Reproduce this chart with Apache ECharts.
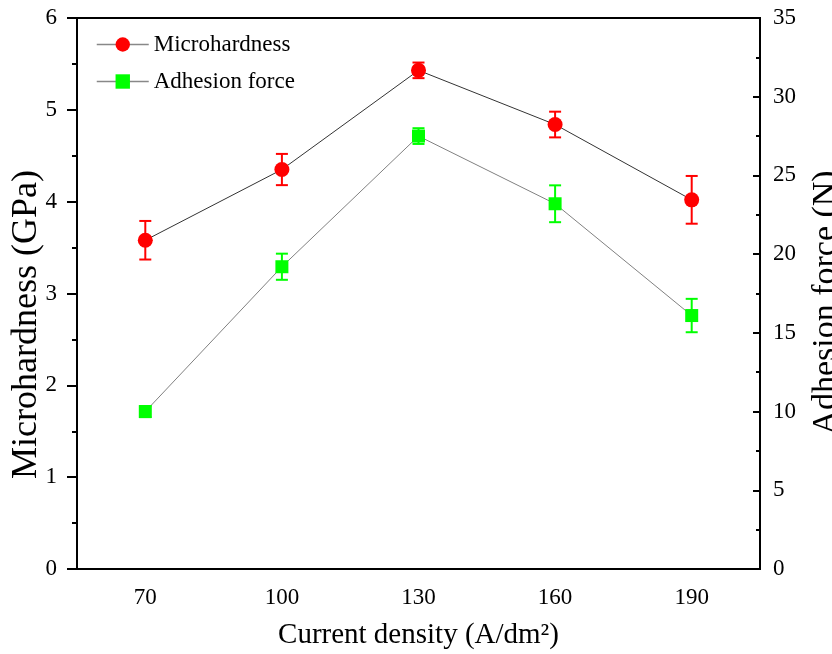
<!DOCTYPE html>
<html>
<head>
<meta charset="utf-8">
<script src="https://cdn.jsdelivr.net/npm/echarts@6/dist/echarts.min.js"></script>
<style>
  html, body { margin: 0; padding: 0; background: #fff; }
  #chart { width: 832px; height: 654px; }
</style>
</head>
<body>
<div id="chart"></div>
<script>
// 数据
var categories = ['70', '100', '130', '160', '190'];
var hardness = [3.58, 4.35, 5.43, 4.84, 4.02];
var hardnessErr = [0.21, 0.17, 0.085, 0.14, 0.26];
var adhesion = [10.0, 19.2, 27.5, 23.2, 16.1];
var adhesionErr = [0.35, 0.83, 0.5, 1.17, 1.06];

var serif = "'Liberation Serif', 'Times New Roman', serif";

function errData(vals, errs) {
    var out = [];
    for (var i = 0; i < vals.length; i++) {
        out.push([i, vals[i] - errs[i], vals[i] + errs[i]]);
    }
    return out;
}

// 误差棒
function errorBar(color) {
    return function (params, api) {
        var lo = api.coord([api.value(0), api.value(1)]);
        var hi = api.coord([api.value(0), api.value(2)]);
        var w = 6;
        var st = { stroke: color, lineWidth: 2 };
        return {
            type: 'group',
            children: [
                { type: 'line', shape: { x1: lo[0], y1: lo[1], x2: hi[0], y2: hi[1] }, style: st },
                { type: 'line', shape: { x1: lo[0] - w, y1: lo[1], x2: lo[0] + w, y2: lo[1] }, style: st },
                { type: 'line', shape: { x1: hi[0] - w, y1: hi[1], x2: hi[0] + w, y2: hi[1] }, style: st }
            ]
        };
    };
}

var dom = document.getElementById('chart');
var myChart = echarts.init(dom);

var option = {
    animation: false,
    textStyle: { fontFamily: serif, color: '#000' },
    grid: {
        left: 77, right: 72, top: 18, bottom: 85,
        outerBoundsMode: 'none',
        containLabel: false,
        show: true, borderColor: '#000', borderWidth: 2
    },
    legend: {
        orient: 'vertical',
        left: 96,
        top: 33,
        padding: 0,
        itemWidth: 52,
        itemHeight: 18,
        itemGap: 14,
        lineStyle: { color: '#888', width: 1.5 },
        textStyle: { fontFamily: serif, fontSize: 23, color: '#000', lineHeight: 23 },
        data: ['Microhardness', 'Adhesion force']
    },
    xAxis: {
        type: 'category',
        data: categories,
        boundaryGap: true,
        name: 'Current density (A/dm²)',
        nameLocation: 'middle',
        nameGap: 52,
        nameTextStyle: { fontFamily: serif, fontSize: 29, color: '#000' },
        axisLine: { lineStyle: { color: '#000', width: 2 } },
        axisTick: { alignWithLabel: true, length: 8, lineStyle: { color: '#000', width: 2 } },
        axisLabel: { fontFamily: serif, fontSize: 23, color: '#000', margin: 17 },
        splitLine: { show: false }
    },
    yAxis: [
        {
            type: 'value',
            min: 0, max: 6, interval: 1,
            name: 'Microhardness (GPa)',
            nameLocation: 'middle',
            nameGap: 32,
            nameMoveOverlap: false,
            nameTextStyle: { fontFamily: serif, fontSize: 36, color: '#000', padding: [0, 62, 0, 0] },
            axisLine: { show: true, lineStyle: { color: '#000', width: 2 } },
            axisTick: { show: true, length: 10, lineStyle: { color: '#000', width: 2 } },
            minorTick: { show: true, splitNumber: 2, length: 5, lineStyle: { color: '#000', width: 2 } },
            axisLabel: { fontFamily: serif, fontSize: 23, color: '#000', margin: 20 },
            splitLine: { show: false }
        },
        {
            type: 'value',
            position: 'right',
            min: 0, max: 35, interval: 5,
            name: 'Adhesion force (N)',
            nameLocation: 'middle',
            nameGap: 49,
            nameMoveOverlap: false,
            nameTextStyle: { fontFamily: serif, fontSize: 34, color: '#000', padding: [0, 18, 0, 0] },
            axisLine: { show: true, lineStyle: { color: '#000', width: 2 } },
            axisTick: { show: true, inside: true, length: 7, lineStyle: { color: '#000', width: 2 } },
            minorTick: { show: true, splitNumber: 2, length: 4, lineStyle: { color: '#000', width: 2 } },
            axisLabel: { fontFamily: serif, fontSize: 23, color: '#000', margin: 13 },
            splitLine: { show: false }
        }
    ],
    series: [
        {
            name: 'Microhardness',
            type: 'line',
            yAxisIndex: 0,
            data: hardness,
            symbol: 'circle',
            symbolSize: 15,
            z: 5,
            lineStyle: { color: '#333', width: 1 },
            itemStyle: { color: '#ff0000' }
        },
        {
            name: 'Adhesion force',
            type: 'line',
            yAxisIndex: 1,
            data: adhesion,
            symbol: 'rect',
            symbolSize: 13,
            z: 5,
            lineStyle: { color: '#808080', width: 1 },
            itemStyle: { color: '#00ff00' }
        },
        {
            type: 'custom',
            yAxisIndex: 0,
            renderItem: errorBar('#ff0000'),
            data: errData(hardness, hardnessErr),
            z: 4,
            silent: true
        },
        {
            type: 'custom',
            yAxisIndex: 1,
            renderItem: errorBar('#00ff00'),
            data: errData(adhesion, adhesionErr),
            z: 4,
            silent: true
        }
    ]
};

myChart.setOption(option);
</script>
</body>
</html>
